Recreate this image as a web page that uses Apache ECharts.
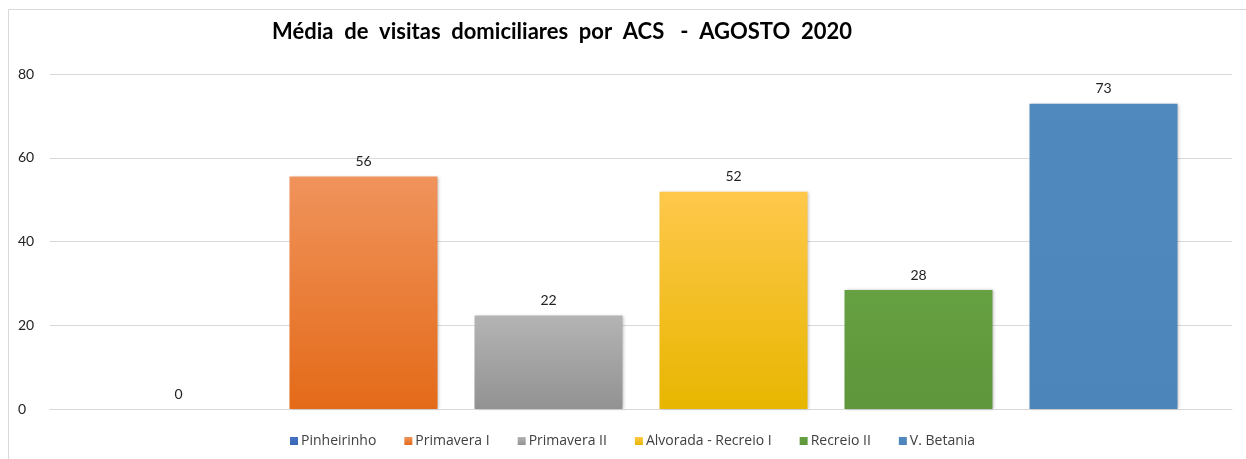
<!DOCTYPE html>
<html>
<head>
<meta charset="utf-8">
<script src="https://cdn.jsdelivr.net/npm/echarts@6/dist/echarts.min.js"></script>
<style>
  html, body { margin: 0; padding: 0; background: #fff; }
  #chart { width: 1246px; height: 459px; }
</style>
</head>
<body>
<div id="chart"></div>
<script>
// one category, each unit is its own series
const categories = [''];
const seriesNames = ['Pinheirinho', 'Primavera I', 'Primavera II', 'Alvorada - Recreio I', 'Recreio II', 'V. Betania'];
const seriesValues = [0, 55.5, 22.3, 51.9, 28.4, 72.9];
const yTicks = [0, 20, 40, 60, 80];

const colors = [
    ['#4472C4', '#3A66B5'],
    ['#F0935C', '#E46A18'],
    ['#B4B4B4', '#929292'],
    ['#FFC84B', '#E7B600'],
    ['#65A041', '#5E963B'],
    ['#5089BE', '#4C85BA']
];
const legendColors = ['#4472C4', '#ED7D31', '#A5A5A5', '#FFC000', '#70AD47', '#5B9BD5'];

const font = 'Lato, "Open Sans", sans-serif';

const series = seriesNames.map((name, i) => ({
    name: name,
    type: 'bar',
    barWidth: 148,
    barGap: '25%',
    data: [seriesValues[i]],
    itemStyle: {
        color: new echarts.graphic.LinearGradient(0, 0, 0, 1, [
            { offset: 0, color: colors[i][0] },
            { offset: 1, color: colors[i][1] }
        ]),
        shadowColor: 'rgba(0,0,0,0.25)',
        shadowBlur: 3,
        shadowOffsetX: 1
    },
    label: {
        show: true,
        position: 'top',
        distance: 8,
        color: '#222',
        fontFamily: font,
        fontSize: 14,
        formatter: p => Math.round(p.value)
    }
}));

const chart = echarts.init(document.getElementById('chart'));
chart.setOption({
    animation: false,
    color: legendColors,
    title: {
        text: 'Média  de  visitas  domiciliares  por  ACS   -  AGOSTO  2020',
        left: 557,
        textAlign: 'center',
        top: 16,
        textStyle: { fontFamily: font, fontWeight: 'bold', fontSize: 22, color: '#000' }
    },
    graphic: [{
        type: 'rect',
        shape: { x: 8.5, y: 9.5, width: 1250, height: 470 },
        style: { fill: 'none', stroke: '#d9d9d9', lineWidth: 1 },
        silent: true
    }],
    legend: {
        bottom: 6,
        left: 285,
        itemWidth: 8,
        itemHeight: 8,
        itemGap: 28,
        icon: 'rect',
        textStyle: { fontFamily: '"Open Sans", sans-serif', fontSize: 14, color: '#404040', padding: [0, 0, 0, -2] },
        data: seriesNames
    },
    grid: { left: 50, right: 14, top: 74, bottom: 50, containLabel: false },
    xAxis: {
        type: 'category',
        data: categories,
        axisLine: { lineStyle: { color: '#d9d9d9' } },
        axisTick: { show: false },
        axisLabel: { show: false }
    },
    yAxis: {
        type: 'value',
        min: yTicks[0],
        max: yTicks[yTicks.length - 1],
        interval: 20,
        axisLine: { show: false },
        axisTick: { show: false },
        axisLabel: { fontFamily: font, fontSize: 14, color: '#222', margin: 32, align: 'left' },
        splitLine: { lineStyle: { color: '#d9d9d9' } }
    },
    series: series
});
</script>
</body>
</html>
